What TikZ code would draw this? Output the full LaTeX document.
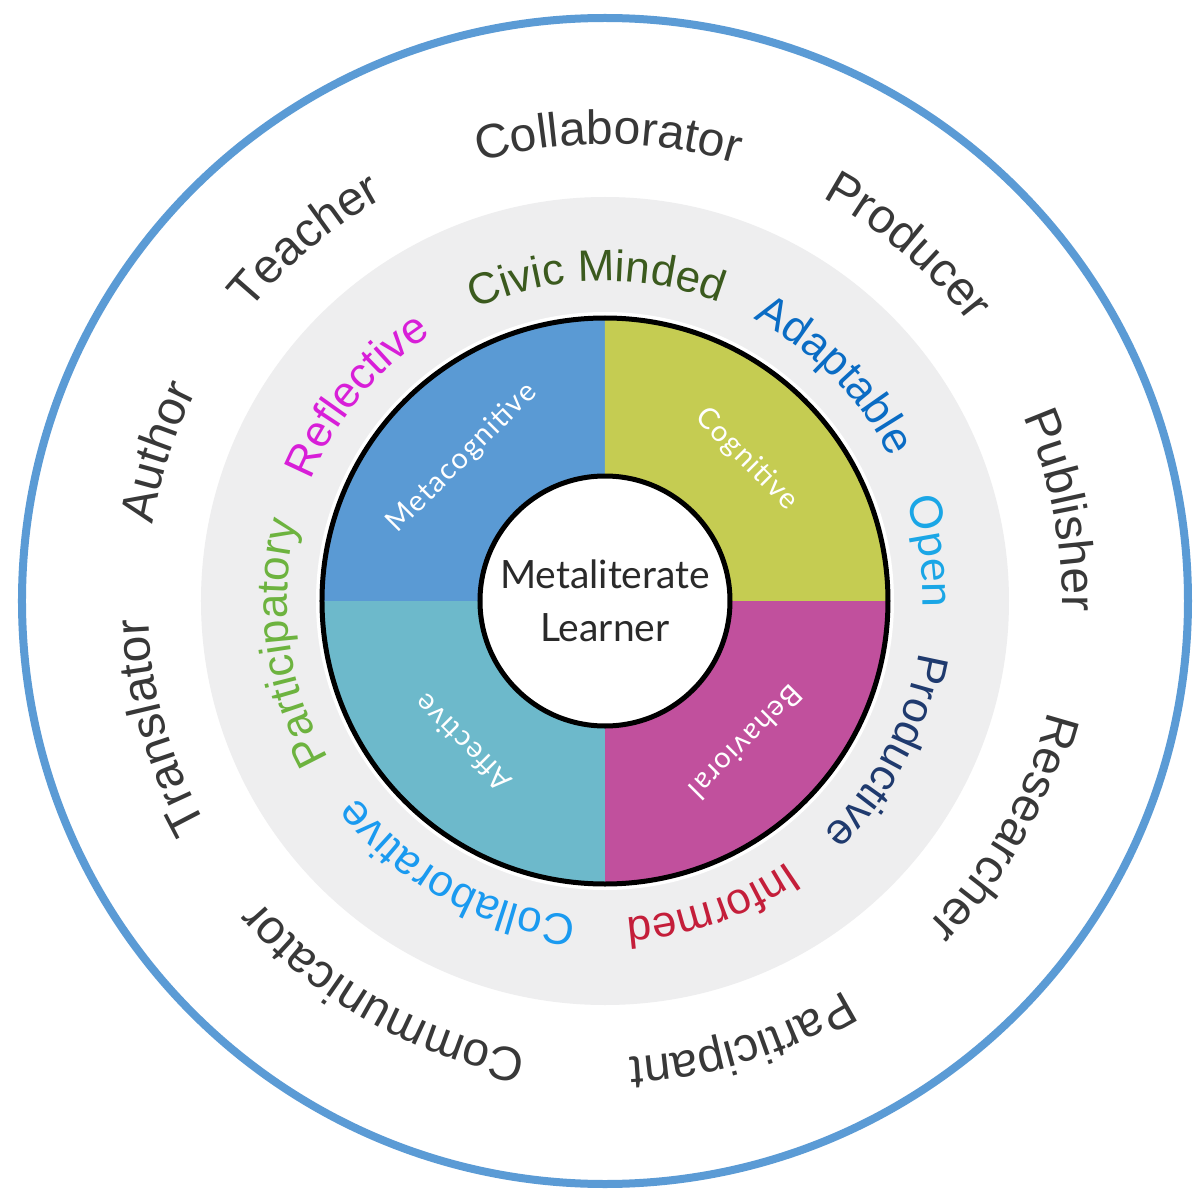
\documentclass[tikz,border=0pt]{standalone}
\usepackage{fontspec}
\usetikzlibrary{decorations.text}
\newfontfamily\arialf{Liberation Sans}
\newfontfamily\ralef{Lato}
\newfontfamily\ralefsp[LetterSpace=5]{Lato}
\definecolor{ringblue}{HTML}{5B9BD5}
\definecolor{graybg}{HTML}{EEEEEF}
\definecolor{metac}{HTML}{5A9AD4}
\definecolor{cogn}{HTML}{C5CC52}
\definecolor{behav}{HTML}{C1509D}
\definecolor{affec}{HTML}{6DB9CB}
\definecolor{wordgray}{HTML}{383838}
\definecolor{civic}{HTML}{3B5A1E}
\definecolor{adapt}{HTML}{0A6CC4}
\definecolor{openc}{HTML}{1AA6E6}
\definecolor{produc}{HTML}{1F3A6E}
\definecolor{inform}{HTML}{C41E3A}
\definecolor{collab}{HTML}{1A9AF0}
\definecolor{partic}{HTML}{6DB33F}
\definecolor{reflec}{HTML}{D81ED8}
\definecolor{hubtext}{HTML}{2A2A2A}
\newcommand\outerfont{\arialf\fontsize{48}{48}\selectfont}
\newcommand\midfont{\arialf\fontsize{44}{44}\selectfont}
\newcommand\openfont{\ralef\fontsize{45}{45}\selectfont}
% #1 centre angle, #2 baseline radius (pt), #3 half span, #4 format, #5 text
\newcommand\arcword[5]{%
  \path[decorate,decoration={text along path,text align=center,text={|#4|#5}}]
    ({#1+#3}:#2pt) arc[start angle={#1+#3}, end angle={#1-#3}, radius=#2pt];}
\begin{document}
\begin{tikzpicture}[x=1pt,y=1pt,
  qlabel/.style={text=white, font=\ralefsp\fontsize{29}{29}\selectfont, inner sep=0pt},
  hub/.style={circle, fill=white, draw=black, line width=5pt, minimum size=250pt, inner sep=0pt,
    align=center, text=hubtext, font=\ralef\fontsize{39}{53}\selectfont}]
\useasboundingbox (-605,-599) rectangle (595,601);
\fill[white] (-605,-599) rectangle (595,601);
% outer ring
\draw[ringblue, line width=8pt] (0,0) circle[radius=583pt];
% gray band
\fill[graybg] (0,0) circle[radius=404pt];
% white halo
\fill[white] (0,0) circle[radius=289pt];
% quadrants
\fill[metac] (0,0) -- (90:283pt) arc[start angle=90, end angle=180, radius=283pt] -- cycle;
\fill[cogn] (0,0) -- (0:283pt) arc[start angle=0, end angle=90, radius=283pt] -- cycle;
\fill[behav] (0,0) -- (270:283pt) arc[start angle=270, end angle=360, radius=283pt] -- cycle;
\fill[affec] (0,0) -- (180:283pt) arc[start angle=180, end angle=270, radius=283pt] -- cycle;
\draw[black, line width=5pt] (0,0) circle[radius=283pt];
% centre
\node[hub] (hub) at (0,0) {Metaliterate\\Learner};
% quadrant labels
\node[qlabel, rotate=45] (metaq) at (135:202pt) {Metacognitive};
\node[qlabel, rotate=-45] (cognq) at (45:200pt) {Cognitive};
\node[qlabel, rotate=-135] (behavq) at (-45:200pt) {Behavioral};
\node[qlabel, rotate=135] (affecq) at (-135:201pt) {Affective};
% outer words
\arcword{89.6}{457}{40}{\outerfont\color{wordgray}}{Collaborator}
\arcword{49.5}{458}{40}{\outerfont\color{wordgray}}{Producer}
\arcword{11.3}{457}{40}{\outerfont\color{wordgray}}{Publisher}
\arcword{-29.5}{457}{40}{\outerfont\color{wordgray}}{Researcher}
\arcword{-72.7}{457}{40}{\outerfont\color{wordgray}}{Participant}
\arcword{-119.4}{457}{40}{\outerfont\color{wordgray}}{Communicator}
\arcword{-164.2}{457}{40}{\outerfont\color{wordgray}}{Translator}
\arcword{161.6}{459}{40}{\outerfont\color{wordgray}}{Author}
\arcword{129.8}{459}{40}{\outerfont\color{wordgray}}{Teacher}
% middle words
\arcword{91.5}{320}{50}{\midfont\color{civic}}{Civic Minded}
\arcword{44.5}{319}{50}{\midfont\color{adapt}}{Adaptable}
\arcword{8.7}{318}{50}{\openfont\color{openc}}{Open}
\arcword{-28}{318}{50}{\midfont\color{produc}}{Productive}
\arcword{-70.6}{318}{50}{\midfont\color{inform}}{Informed}
\arcword{-118.5}{316}{50}{\midfont\color{collab}}{Collaborative}
\arcword{-172.4}{318}{50}{\midfont\color{partic}}{Participatory}
\arcword{140.4}{318}{50}{\midfont\color{reflec}}{Reflective}
\end{tikzpicture}
\end{document}
